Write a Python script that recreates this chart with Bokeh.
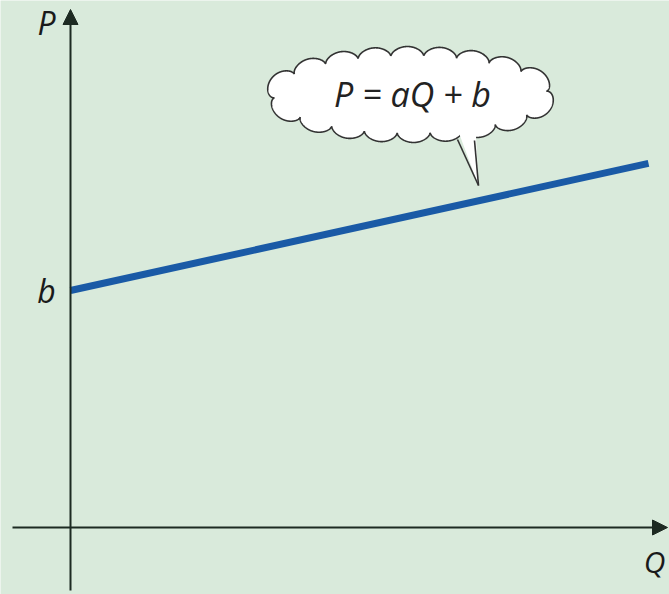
import numpy as np
from bokeh.plotting import figure
from bokeh.models import Range1d, Arrow, NormalHead
from bokeh.core.properties import value
from bokeh.embed import file_html
from bokeh.resources import INLINE

# Linear relation P = aQ + b
a = 0.22
b = 4.1
Q_line = [0.0, 10.0]
P_line = [a * q + b for q in Q_line]

# axis labels
axis_labels = ["P", "Q"]
intercept_label = "b"
equation = "P = aQ + b"

W, H = 669, 594
S = 57.8             # pixels per unit
OX, OY = 70, 527     # origin in screen pixels


def dx(px):
    return (px - OX) / S


def dy(py):
    return (OY - py) / S


p = figure(width=W, height=H, output_backend="svg", toolbar_location=None,
           x_range=Range1d(dx(0), dx(W)), y_range=Range1d(dy(H), dy(0)),
           min_border=0)
p.axis.visible = False
p.grid.visible = False
p.outline_line_color = None
p.background_fill_color = "#d9eadb"
p.border_fill_color = "#d9eadb"

AX = "#1d2a22"
# horizontal and vertical axes with arrow heads
p.add_layout(Arrow(x_start=dx(12), y_start=0, x_end=dx(667), y_end=0,
                   line_color=AX, line_width=2,
                   end=NormalHead(size=15, fill_color=AX, line_color=AX, line_width=1)))
p.add_layout(Arrow(x_start=0, y_start=dy(590), x_end=0, y_end=dy(9),
                   line_color=AX, line_width=2,
                   end=NormalHead(size=15, fill_color=AX, line_color=AX, line_width=1)))

# the line itself
p.line(Q_line, P_line, line_color="#1a5aa6", line_width=7, line_cap="butt")

font = value("Open Sans")
p.text([dx(46)], [dy(22)], text=[axis_labels[0]], text_font=font, text_font_style="italic",
       text_font_size="32px", text_align="center", text_baseline="middle", text_color="#1a1a1a")
p.text([dx(654)], [dy(561)], text=[axis_labels[1]], text_font=font, text_font_style="italic",
       text_font_size="30px", text_align="center", text_baseline="middle", text_color="#1a1a1a")
p.text([dx(46)], [b], text=[intercept_label], text_font=font, text_font_style="italic",
       text_font_size="32px", text_align="center", text_baseline="middle", text_color="#1a1a1a")

# speech cloud: ellipse with rounded scallops of constant size along its outline
cx, cy, ra, rb, amp, nb = 410, 94, 136, 38, 10, 18
t = np.linspace(0, 2 * np.pi, 2000)
ex, ey = cx + ra * np.cos(t), cy + rb * np.sin(t)
tx, ty = -ra * np.sin(t), rb * np.cos(t)
nrm = np.hypot(tx, ty)
nx, ny = ty / nrm, -tx / nrm
seg = np.hypot(np.diff(ex), np.diff(ey))
s = np.concatenate([[0], np.cumsum(seg)])
bump = amp * np.sqrt(np.abs(np.sin(np.pi * nb * s / s[-1] + 0.3)))
px_ = ex + nx * bump
py_ = ey + ny * bump
p.patch([dx(v) for v in px_], [dy(v) for v in py_], fill_color="white",
        line_color="#333333", line_width=1.6)

# tail of the cloud pointing at the line
p.patch([dx(456), dx(475), dx(478)], [dy(126), dy(126), dy(185)],
        fill_color="white", line_color=None)
p.line([dx(457), dx(478)], [dy(139), dy(185)], line_color="#333333", line_width=1.6)
p.line([dx(474), dx(478)], [dy(140), dy(185)], line_color="#333333", line_width=1.6)

p.text([dx(412)], [dy(93)], text=[equation], text_font=font, text_font_style="italic",
       text_font_size="34px", text_align="center", text_baseline="middle", text_color="#222222")

open("out.html", "w").write(file_html(p, INLINE))
